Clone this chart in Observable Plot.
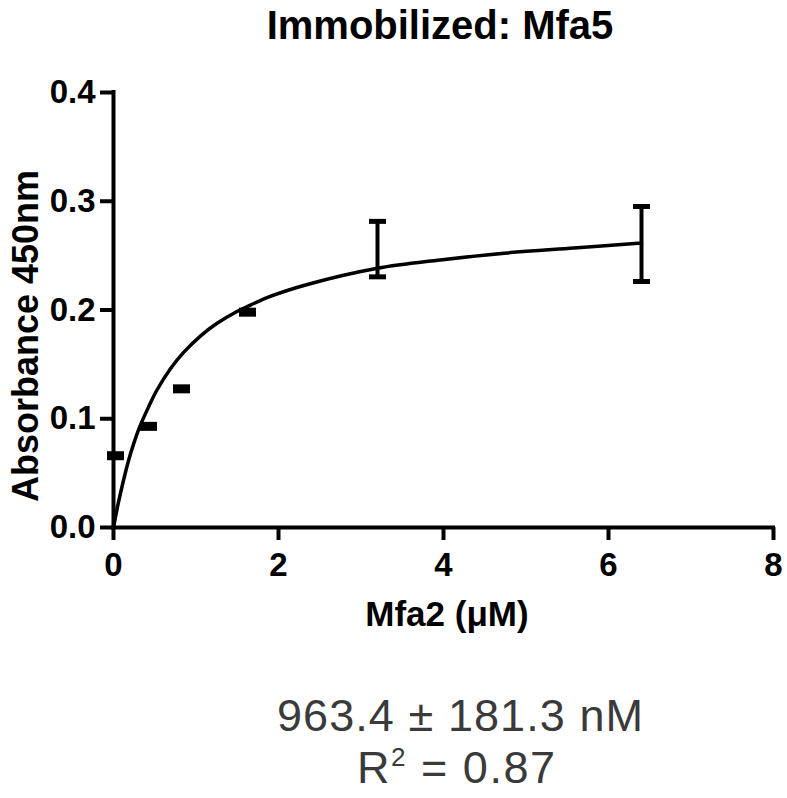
<!DOCTYPE html>
<html>
<head>
<meta charset="utf-8">
<script src="https://cdn.jsdelivr.net/npm/d3@7"></script>
<script src="https://cdn.jsdelivr.net/npm/@observablehq/plot@0.6"></script>
<style>
  html, body { margin: 0; padding: 0; background: #fff; }
  #chart { width: 787px; height: 798px; }
</style>
</head>
<body>
<div id="chart"></div>
<script>
// ---- data ----
const conc = [0, 0.4, 0.8, 1.6, 3.2, 6.4];              // Mfa2 (µM)
const absMean = [0.066, 0.093, 0.1275, 0.198, 0.256, 0.2607];
const absErr = [0, 0, 0, 0, 0.0255, 0.0345];

const fitX = [0, 0.02, 0.06, 0.12, 0.18, 0.24, 0.32, 0.42, 0.52, 0.69, 0.85, 1.06, 1.26, 1.48, 1.66, 1.90, 2.35, 3.20, 3.96, 4.77, 5.58, 6.40];
const fitY = [0, 0.008, 0.023, 0.043, 0.061, 0.076, 0.093, 0.110, 0.1255, 0.146, 0.161, 0.1765, 0.188, 0.198, 0.2045, 0.2125, 0.2235, 0.2384, 0.246, 0.2525, 0.257, 0.2615];

const xTicks = [0, 2, 4, 6, 8];
const yTicks = [0, 0.1, 0.2, 0.3, 0.4];

const titleText = "Immobilized: Mfa5";
const xLabel = "Mfa2 (\u03BCM)";
const yLabel = "Absorbance 450nm";
const kdText = "963.4 \u00B1 181.3 nM";
const r2Text = ["R", "2", " = 0.87"];

// ---- tables ----
const points = conc.map((c, i) => ({x: c, y: absMean[i], err: absErr[i]}));
const fit = fitX.map((x, i) => ({x, y: fitY[i]}));
const withBars = points.filter(d => d.err > 0);
const markers = points.filter(d => d.err === 0);
const caps = withBars.flatMap(d => [{x: d.x, y: d.y - d.err}, {x: d.x, y: d.y + d.err}]);

const rectSymbol = (w, h) => ({draw(ctx) { ctx.rect(-w / 2, -h / 2, w, h); }});

const font = "'Liberation Sans', Arial, Helvetica, sans-serif";

const svg = Plot.plot({
  width: 787,
  height: 798,
  marginLeft: 113,
  marginRight: 14,
  marginTop: 92,
  marginBottom: 271,
  style: {fontFamily: font, background: "#fff", color: "#000", overflow: "visible"},
  x: {domain: [0, 8]},
  y: {domain: [0, 0.4]},
  marks: [
    Plot.axisX({ticks: xTicks, tickSize: 13, tickPadding: 12, strokeWidth: 4, fontSize: 33, fontWeight: "bold", label: null, tickFormat: d => String(d)}),
    Plot.axisY({ticks: yTicks, tickSize: 13, tickPadding: 5, strokeWidth: 4, fontSize: 33, fontWeight: "bold", label: null, tickFormat: d3.format(".1f")}),
    Plot.ruleY([0], {strokeWidth: 4, strokeLinecap: "square"}),
    Plot.ruleX([0], {strokeWidth: 4, strokeLinecap: "square"}),
    Plot.line(fit, {x: "x", y: "y", curve: "catmull-rom", strokeWidth: 3.5, stroke: "#000"}),
    Plot.ruleX(withBars, {x: "x", y1: d => d.y - d.err, y2: d => d.y + d.err, strokeWidth: 4, stroke: "#000"}),
    Plot.dot(caps, {x: "x", y: "y", symbol: rectSymbol(17, 5), fill: "#000", stroke: "none", r: 5}),
    Plot.dot(markers, {x: "x", y: "y", symbol: rectSymbol(17, 9), fill: "#000", stroke: "none", r: 5, dx: 2})
  ]
});

const s = d3.select(svg);
s.append("text").attr("x", 440).attr("y", 39).attr("text-anchor", "middle")
  .attr("font-family", font).attr("font-weight", "bold").attr("font-size", 40).attr("fill", "#000").text(titleText);
s.append("text").attr("transform", "translate(38,336) rotate(-90)").attr("text-anchor", "middle")
  .attr("font-family", font).attr("font-weight", "bold").attr("font-size", 36).attr("fill", "#000").text(yLabel);
s.append("text").attr("x", 447).attr("y", 626).attr("text-anchor", "middle")
  .attr("font-family", font).attr("font-weight", "bold").attr("font-size", 35).attr("fill", "#000").text(xLabel);
s.append("text").attr("x", 277).attr("y", 731).attr("text-anchor", "start")
  .attr("textLength", 366).attr("lengthAdjust", "spacing")
  .attr("font-family", font).attr("font-size", 45).attr("fill", "#3a3a3a").text(kdText);
const r2 = s.append("text").attr("x", 357).attr("y", 783).attr("text-anchor", "start")
  .attr("textLength", 198).attr("lengthAdjust", "spacing")
  .attr("font-family", font).attr("font-size", 45).attr("fill", "#3a3a3a");
r2.append("tspan").text(r2Text[0]);
r2.append("tspan").attr("font-size", 26).attr("dy", -17).text(r2Text[1]);
r2.append("tspan").attr("dy", 17).text(r2Text[2]);

document.getElementById("chart").appendChild(svg);
</script>
</body>
</html>
